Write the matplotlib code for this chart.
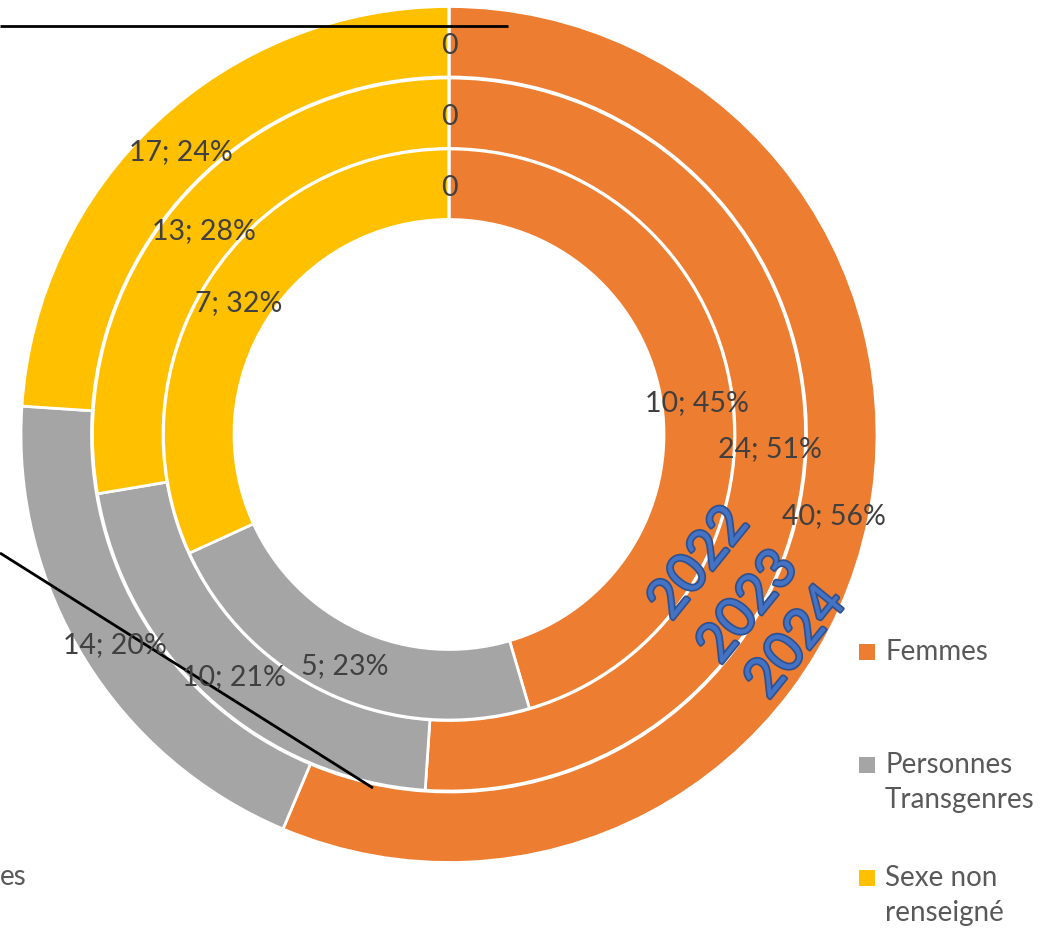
import numpy as np
import matplotlib
matplotlib.use("Agg")
import matplotlib.pyplot as plt
import matplotlib.patheffects as pe

plt.rcParams['font.family'] = ['Lato', 'DejaVu Sans']

# ---- data ----
categories = ["Femmes", "Personnes Transgenres", "Sexe non renseigné", "Hommes"]
years = ["2022", "2023", "2024"]
values_2022 = [10, 5, 7, 0]
values_2023 = [24, 10, 13, 0]
values_2024 = [40, 14, 17, 0]
legend_labels = ["Femmes", "Personnes\nTransgenres", "Sexe non\nrenseigné"]
colors = ["#ED7D31", "#A5A5A5", "#FFC000", "#4472C4"]

W, H = 1061, 933
fig = plt.figure(figsize=(W / 100, H / 100), dpi=100)
ax = fig.add_axes([0, 0, 1, 1])


def Y(py):
    return H - py


cx, cy = 449, Y(434.5)
radii = {"2024": 428, "2023": 356.5, "2022": 285.5}
ring_w = 70.5
series = {"2022": values_2022, "2023": values_2023, "2024": values_2024}

label_color = "#404040"
for yr in ["2024", "2023", "2022"]:
    vals = series[yr]
    r = radii[yr]
    wedges, _ = ax.pie(vals, radius=r, center=(cx, cy), startangle=90,
                       counterclock=False, colors=colors,
                       wedgeprops=dict(width=ring_w, edgecolor="white", linewidth=2))
    total = sum(vals)
    for w, v in zip(wedges, vals):
        ang = np.deg2rad((w.theta1 + w.theta2) / 2)
        rr = r - ring_w / 2
        tx, ty = cx + rr * np.cos(ang), cy + rr * np.sin(ang) - 4
        txt = "0" if v == 0 else f"{v}; {round(100 * v / total)}%"
        ax.text(tx, ty, txt, ha="center", va="center", fontsize=20.5, color=label_color)

ax.set_xlim(0, W)
ax.set_ylim(0, H)
ax.set_aspect("equal")
ax.axis("off")

# year WordArt labels
year_pos = {"2022": (699, 563), "2023": (748, 607), "2024": (796, 642)}
for yr in years:
    x, y = year_pos[yr]
    ax.text(x, Y(y), yr, ha="center", va="center", fontsize=39, rotation=51,
            color="#4472C4",
            path_effects=[pe.Stroke(linewidth=2.5, foreground="#2F528F"), pe.Normal()])

# stray drawn lines
ax.plot([0, 508], [Y(26), Y(26)], color="black", lw=2, solid_capstyle="butt")
ax.plot([0, 373], [Y(553), Y(788)], color="black", lw=2, solid_capstyle="butt")

# legend (manual)
leg_y = [651, 764, 877]
for lab, c, ly in zip(legend_labels, colors[:3], leg_y):
    ax.scatter([866.5], [Y(ly + 1)], marker="s", s=120, color=c, linewidths=0)
    ax.text(885, Y(ly - 12), lab, ha="left", va="top", fontsize=20,
            color="#595959", linespacing=1.45)

# cut-off legend entry on the left (only its end is visible)
ax.text(0, Y(877), "es", ha="left", va="center", fontsize=20, color="#595959")

fig.savefig("out.png", dpi=100)
